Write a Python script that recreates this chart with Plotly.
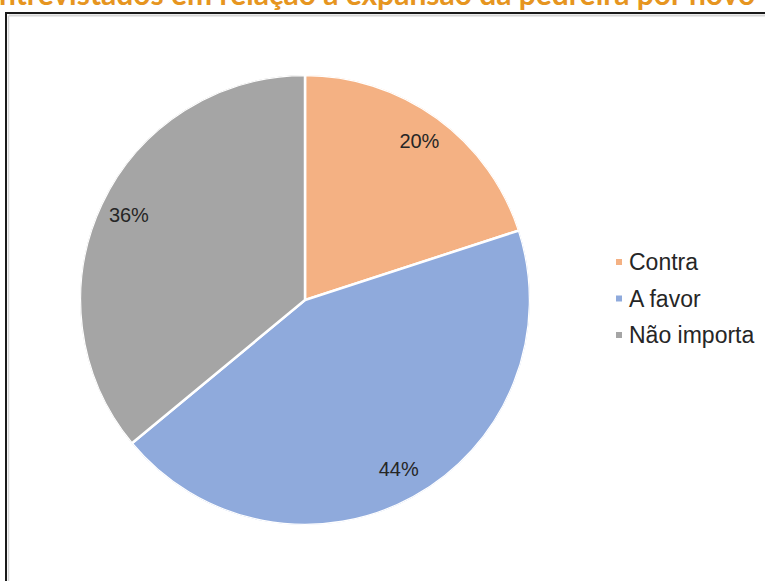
import plotly.graph_objects as go

labels = ["Contra", "A favor", "Não importa"]
values = [20, 44, 36]
colors = ["#F4B183", "#8FAADC", "#A5A5A5"]
title_text = "ntrevistados em relação à expansão da pedreira por novo"

W, H = 765, 581


def sx(x):
    return x / W


def sy(y):
    return 1 - y / H


dom = dict(x=[sx(80), sx(530)], y=[sy(525), sy(75)])

total = sum(values)
mids, widths, cum = [], [], 0
for v in values:
    widths.append(v / total * 360)
    mids.append((cum + v / 2) / total * 360)
    cum += v
pct_text = [f"{round(v / total * 100)}%" for v in values]

fig = go.Figure()
# pie slices drawn as full-radius polar bars
fig.add_trace(go.Barpolar(
    r=[1] * len(values),
    theta=mids,
    width=widths,
    marker=dict(color=colors, line=dict(color="white", width=2.5)),
    text=labels,
    hovertemplate="%{text}<extra></extra>",
    showlegend=False,
))
# percentage labels
fig.add_trace(go.Scatterpolar(
    r=[0.865] * len(values),
    theta=mids,
    mode="text",
    text=pct_text,
    textfont=dict(family="Liberation Sans, Arial, sans-serif", size=20, color="#262626"),
    showlegend=False,
    hoverinfo="skip",
))

shapes = [
    dict(type="line", xref="paper", yref="paper",
         x0=sx(9), x1=1.05, y0=sy(15.5), y1=sy(15.5),
         line=dict(color="#d6d6d6", width=2)),
    dict(type="line", xref="paper", yref="paper",
         x0=sx(8.5), x1=sx(8.5), y0=-0.05, y1=sy(15.5),
         line=dict(color="#d6d6d6", width=1.5)),
    dict(type="rect", xref="paper", yref="paper",
         x0=sx(6), x1=1.05, y0=-0.05, y1=sy(13),
         line=dict(color="#1a1a1a", width=2), fillcolor="rgba(0,0,0,0)"),
]
annotations = [
    dict(text="<b>" + title_text + "</b>", xref="paper", yref="paper",
         x=sx(-3), y=sy(13.5),
         xanchor="left", yanchor="bottom", showarrow=False,
         font=dict(family="Lato, Open Sans, sans-serif", size=30, color="#E69520")),
]

leg_y = [262, 298.5, 335]
for lab, col, yy in zip(labels, colors, leg_y):
    shapes.append(dict(type="rect", xref="paper", yref="paper",
                       x0=sx(616), x1=sx(622), y0=sy(yy + 3), y1=sy(yy - 3),
                       fillcolor=col, line=dict(width=0)))
    annotations.append(dict(text=lab, xref="paper", yref="paper",
                            x=sx(627), y=sy(yy), xanchor="left", yanchor="middle",
                            showarrow=False,
                            font=dict(family="Liberation Sans, Arial, sans-serif",
                                      size=23, color="#262626")))

fig.update_layout(
    width=W, height=H,
    margin=dict(l=0, r=0, t=0, b=0),
    paper_bgcolor="white",
    plot_bgcolor="white",
    shapes=shapes,
    annotations=annotations,
    polar=dict(
        domain=dom,
        bgcolor="rgba(0,0,0,0)",
        radialaxis=dict(range=[0, 1], visible=False, showgrid=False, showline=False),
        angularaxis=dict(rotation=90, direction="clockwise", visible=False,
                         showgrid=False, showline=False),
    ),
)

fig.write_html("out.html", config={"displayModeBar": False},
               post_script="document.body.style.margin='0';")
